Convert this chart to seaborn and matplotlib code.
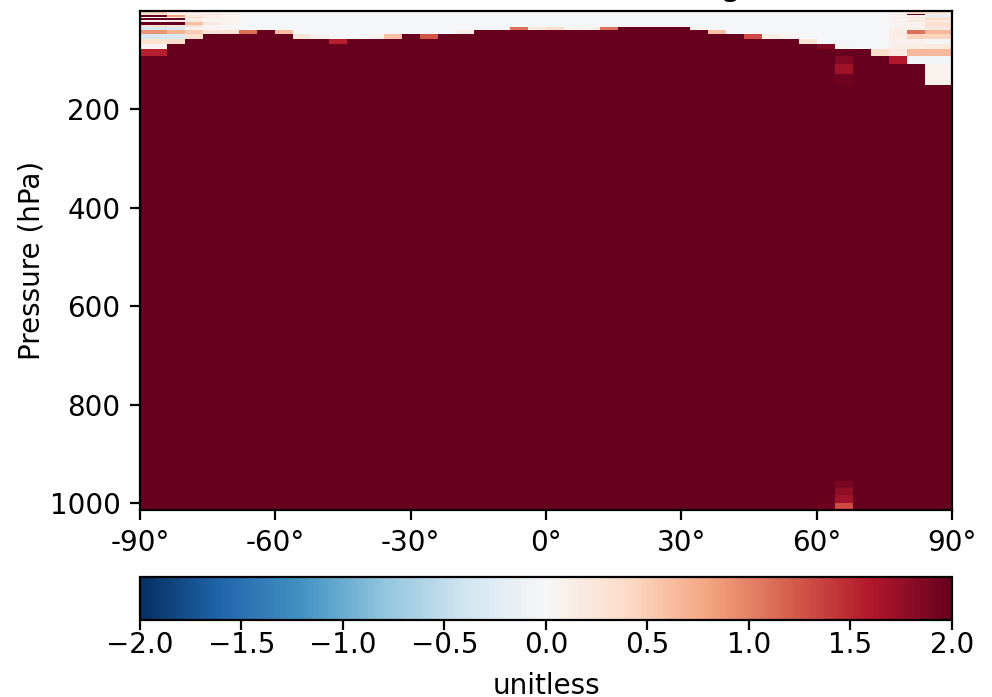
import numpy as np
import seaborn as sns
import matplotlib.pyplot as plt

# grid edges (latitude in degrees, pressure in hPa)
lat_edges = [-90, -84, -80, -76, -72, -68, -64, -60, -56, -52, -48, -44, -40, -36,
             -32, -28, -24, -20, -16, -12, -8, -4, 0, 4, 8, 12, 16, 20, 24, 28, 32,
             36, 40, 44, 48, 52, 56, 60, 64, 68, 72, 76, 80, 84, 90]
pres_edges = [0, 2, 5.5, 9, 12, 15, 18.5, 22, 25, 28.5, 32, 39, 47, 57, 67, 77, 92,
              108, 128, 151, 175, 200, 230, 260, 290, 320, 350, 380, 410, 440, 470,
              500, 530, 560, 590, 620, 650, 680, 710, 740, 770, 800, 830, 860, 885,
              910, 933, 955, 969, 984, 999, 1013]

# number of (near zero) levels above the saturated region, per latitude column
cap_depth = [16, 14, 13, 12, 12, 12, 11, 12, 13, 13,
             14, 13, 13, 13, 12, 13, 12, 12, 11, 11,
             11, 11, 11, 11, 11, 11, 10, 10, 10, 10,
             11, 12, 12, 13, 13, 13, 14, 15, 15, 15,
             16, 17, 17, 19]
cap_value = -0.03
saturated_value = 3.0

# noisy polar columns, values from the top level down
polar_caps = {
    0: [0.2, 0.45, 0.1, 2.5, 0.02, 2.5, 0.02, 2.5, 2.5, 0.3, -0.35, 0.9, -0.35, 0.3, 0.05, 1.55],
    1: [0.3, 0.1, 0.1, 0.8, 0.1, 2.5, 0.1, 2.5, 2.5, 0.25, -0.3, 0.7, -0.3, 0.35],
    2: [0.55, 0.15, 0.1, 0.2, 0.45, 0.1, 0.2, 0.6, 0.6, 0.3, 0.05, 0.5, 0.35],
    3: [0.45, 0.1, 0.2, 0.15, 0.15, 0.1, 0.05, 0.2, 0.2, 0.05, 0.05, 0.25],
    4: [0.2, 0.1, 0.15, 0.05, 0.1, 0.05, 0.05, 0.05, 0.05, 0.02, 0.02, 0.3],
    41: [0.1, 0.05, 0.15, 0.05, 0.1, 0.05, 0.05, 0.1, 0.05, 0.05, 0.1, 0.15, 0.15, 0.1, 0.12, 0.2, 1.6],
    42: [-0.15, 0.3, 2.5, 0.05, 0.3, 0.1, 0.2, 0.05, 0.1, 0.05, 0.1, 1.1, 0.45, 0.1, 0.15, 0.65, -0.05],
    43: [0.3, 0.2, 0.15, -0.2, 0.3, 0.35, 0.2, 0.3, 0.35, 0.3, 0.2, 0.65, 0.45, -0.05, 0.2, 0.65,
         -0.05, 0.08, 0.08],
}

# single cells (column, level, value)
cap_anomalies = [(5, 11, 1.1), (7, 11, 0.6), (8, 12, 0.25), (9, 12, 0.08), (10, 13, 1.55),
                 (12, 12, 0.05), (13, 12, 0.6), (15, 12, 1.25), (17, 11, 0.15), (20, 10, 1.1),
                 (21, 10, 0.2), (22, 10, 0.35), (23, 10, 0.1), (24, 10, 0.1), (25, 10, 1.1),
                 (30, 10, 0.1), (31, 11, 0.6), (33, 12, 1.3), (34, 12, 0.15), (35, 12, 0.05),
                 (36, 13, 0.25), (37, 14, 1.85), (38, 14, 0.03), (40, 15, 0.35)]
lower_anomalies = [(38, 16, 1.85), (38, 17, 1.7), (38, 18, 1.95),
                   (38, -4, 1.9), (38, -3, 1.78), (38, -2, 1.7), (38, -1, 1.3), (37, -1, 1.95)]

x_ticks = [-90, -60, -30, 0, 30, 60, 90]
x_tick_labels = ["-90°", "-60°", "-30°", "0°", "30°", "60°", "90°"]
y_ticks = [200, 400, 600, 800, 1000]
cbar_ticks = [-2.0, -1.5, -1.0, -0.5, 0.0, 0.5, 1.0, 1.5, 2.0]
title = "Normalised net heating"

sns.set_style("ticks", {"axes.edgecolor": "black", "xtick.color": "black",
                        "ytick.color": "black", "text.color": "black",
                        "axes.labelcolor": "black"})
plt.rcParams["font.family"] = ["DejaVu Sans"]
plt.rcParams["font.size"] = 10

field = np.full((len(pres_edges) - 1, len(lat_edges) - 1), saturated_value)
for col, depth in enumerate(cap_depth):
    field[:depth, col] = cap_value
for col, vals in polar_caps.items():
    field[:len(vals), col] = vals
for col, row, val in cap_anomalies + lower_anomalies:
    field[row, col] = val

cmap = sns.color_palette("RdBu_r", as_cmap=True)

fig = plt.figure(figsize=(4.96, 3.485), dpi=200)
ax = fig.add_axes([0.1411, 0.2690, 0.8185, 0.7152])
mesh = ax.pcolormesh(lat_edges, pres_edges, field, cmap=cmap, vmin=-2, vmax=2)
ax.set_xlim(-90, 90)
ax.set_ylim(pres_edges[-1], pres_edges[0])
ax.set_xticks(x_ticks)
ax.set_xticklabels(x_tick_labels)
ax.set_yticks(y_ticks)
ax.set_ylabel("Pressure (hPa)", labelpad=1.5)

# title sits above the canvas, only the descender shows
fig.text(0.5504, 1.0078, title, ha="center", va="baseline", fontsize=12)

cax = fig.add_axes([0.1411, 0.1105, 0.8185, 0.0617])
cbar = fig.colorbar(mesh, cax=cax, orientation="horizontal", ticks=cbar_ticks)
cbar.ax.tick_params(pad=0.5)
cbar.set_label("unitless", labelpad=4.5)

fig.savefig("out.png", dpi=200)
